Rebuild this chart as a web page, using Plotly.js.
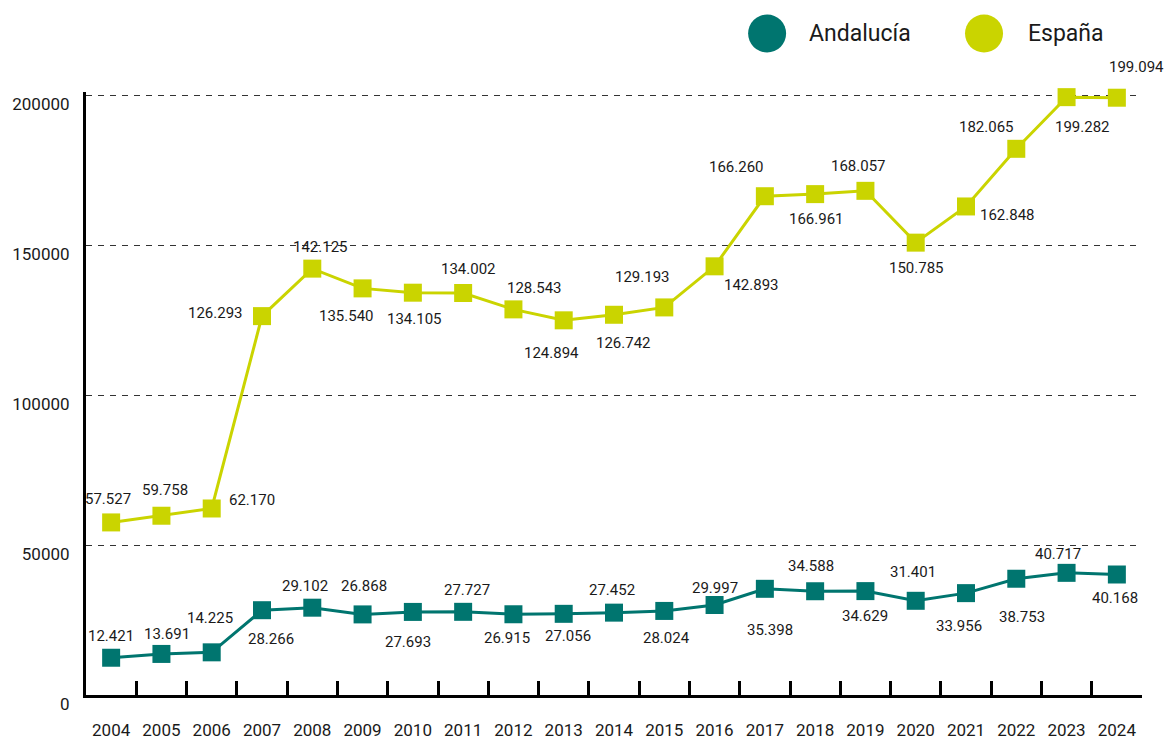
<!DOCTYPE html>
<html>
<head>
<meta charset="utf-8">
<script src="https://cdn.plot.ly/plotly-3.0.1.min.js"></script>
<style>
  html, body { margin: 0; padding: 0; background: #fff; }
  #root { width: 1164px; height: 740px; }
</style>
</head>
<body>
<div id="root"></div>
<script>
// datos
const years = ["2004", "2005", "2006", "2007", "2008", "2009", "2010", "2011", "2012", "2013", "2014",
    "2015", "2016", "2017", "2018", "2019", "2020", "2021", "2022", "2023", "2024"];

const andalucia = [12421, 13691, 14225, 28266, 29102, 26868, 27693, 27727, 26915, 27056, 27452,
    28024, 29997, 35398, 34588, 34629, 31401, 33956, 38753, 40717, 40168];

const espana = [57527, 59758, 62170, 126293, 142125, 135540, 134105, 134002, 128543, 124894, 126742,
    129193, 142893, 166260, 166961, 168057, 150785, 162848, 182065, 199282, 199094];

const yTicks = [0, 50000, 100000, 150000, 200000];

// desplazamiento de las etiquetas respecto al punto (px, dy positivo = hacia abajo)
const dxAnd = [0, 6, -2, 9, -7, 1, -5, 4, -6, 4, -2, 2, 0, 5, -4, 0, -3, -7, 6, -9, -2];
const dyAnd = [-22, -20, -34, 29, -22, -28, 30, -22, 24, 22, -23, 27, -17, 41, -25, 25, -29, 33, 38, -19, 23];

const dxEsp = [-3, 4, 40, -47, 8, -16, 2, 5, 21, -12, 9, -22, 37, -28, 1, -7, 1, 41, -30, 16, 20];
const dyEsp = [-23, -26, -8, -3, -22, 28, 26, -24, -21, 33, 28, -30, 19, -29, 25, -25, 25, 9, -22, 30, -31];

const teal = "#00756f";
const lime = "#cad400";
const ink = "#1a1a1a";
const font = "Roboto, 'Open Sans', sans-serif";

// separador de miles con punto
function fmt(v) {
    return String(v).replace(/\B(?=(\d{3})+(?!\d))/g, ".");
}

function serie(name, values, color) {
    return {
        x: years,
        y: values,
        name: name,
        type: "scatter",
        mode: "lines+markers",
        cliponaxis: false,
        line: { color: color, width: 3 },
        marker: { symbol: "square", size: 18, color: color },
        hoverinfo: "x+y"
    };
}

// etiquetas de datos: x por indice de categoria
function etiquetas(values, dx, dy) {
    return values.map((v, i) => ({
        x: i,
        y: v,
        xref: "x", yref: "y",
        text: fmt(v),
        showarrow: false,
        xanchor: "center",
        yanchor: "middle",
        xshift: dx[i],
        yshift: -dy[i],
        font: { family: font, size: 15, color: ink }
    }));
}

const data = [
    serie("Andalucía", andalucia, teal),
    serie("España", espana, lime)
];

// leyenda manual (circulos grandes)
const legendY = 1.097;
const legendItems = [
    { name: "Andalucía", color: teal, cx: 0.645, tx: 0.683 },
    { name: "España", color: lime, cx: 0.8504, tx: 0.890 }
];

const shapes = legendItems.map(it => ({
    type: "circle",
    xref: "paper", yref: "paper",
    xsizemode: "pixel", ysizemode: "pixel",
    xanchor: it.cx, yanchor: legendY,
    x0: -19, x1: 19, y0: -19, y1: 19,
    fillcolor: it.color,
    line: { width: 0 }
}));

const legendText = legendItems.map(it => ({
    xref: "paper", yref: "paper",
    x: it.tx, y: legendY,
    xanchor: "left", yanchor: "middle",
    text: it.name,
    showarrow: false,
    font: { family: font, size: 23, color: ink }
}));

const layout = {
    width: 1164,
    height: 740,
    margin: { l: 86, r: 22, t: 92, b: 45 },
    paper_bgcolor: "#fff",
    plot_bgcolor: "#fff",
    showlegend: false,
    font: { family: font, color: ink },
    xaxis: {
        type: "category",
        range: [-0.5, 20.5],
        showgrid: false,
        showline: true,
        linecolor: "#000",
        linewidth: 3,
        ticks: "inside",
        tickson: "boundaries",
        ticklen: 14,
        tickwidth: 3,
        tickcolor: "#000",
        tickangle: 0,
        ticklabelstandoff: 18,
        tickfont: { family: font, size: 17, color: ink }
    },
    yaxis: {
        range: [0, 201000],
        tickvals: yTicks,
        ticktext: yTicks.map(String),
        showgrid: true,
        gridcolor: "#333",
        gridwidth: 1,
        griddash: "6px,6px",
        zeroline: false,
        showline: true,
        linecolor: "#000",
        linewidth: 3,
        ticks: "",
        ticklabelstandoff: 10,
        ticklabelshift: 9,
        tickfont: { family: font, size: 17, color: ink }
    },
    shapes: shapes,
    annotations: etiquetas(andalucia, dxAnd, dyAnd)
        .concat(etiquetas(espana, dxEsp, dyEsp))
        .concat(legendText)
};

Plotly.newPlot("root", data, layout, { displayModeBar: false });
</script>
</body>
</html>
